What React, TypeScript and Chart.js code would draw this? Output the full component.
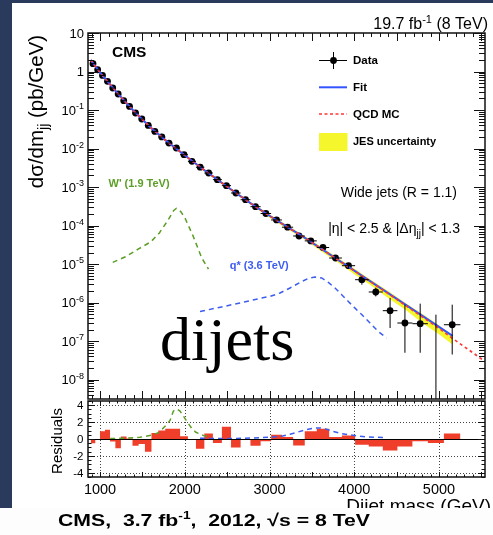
import { useEffect, useRef } from "react";
import { Chart, registerables } from "chart.js";

Chart.register(...registerables);

const SANS = "'Liberation Sans', Arial, Helvetica, sans-serif";
const SERIF = "'Liberation Serif', 'Times New Roman', Times, serif";

// ---- dijet mass binning (GeV) ----
const binEdges = [
  890, 944, 1000, 1058, 1118, 1181, 1246, 1313, 1383, 1455, 1530, 1607, 1687, 1770,
  1856, 1945, 2037, 2132, 2231, 2332, 2438, 2546, 2659, 2775, 2895, 3019, 3147, 3279,
  3416, 3558, 3704, 3854, 4010, 4171, 4337, 4509, 4686, 4869, 5058, 5253,
];
const binCentres = [
  917, 972, 1029, 1088, 1150, 1214, 1280, 1348, 1419, 1493, 1569, 1647, 1729, 1813,
  1901, 1991, 2085, 2182, 2282, 2385, 2492, 2603, 2717, 2835, 2957, 3083, 3213, 3348,
  3487, 3631, 3779, 3932, 4090, 4254, 4423, 4598, 4778, 4964, 5156,
];

// ---- measured cross section dσ/dm (pb/GeV) ----
const dataXsec = [
  1.6, 1.11, 0.79, 0.555, 0.373, 0.261, 0.175, 0.124, 0.0838, 0.0585,
  0.0399, 0.0279, 0.02, 0.0139, 0.01035, 0.00693, 0.00465, 0.00328, 0.00232, 0.00156,
  0.00109, 7.02e-4, 4.7e-4, 3.1e-4, 2.06e-4, 1.4e-4, 9.08e-5, 5.37e-5, 4.01e-5, 2.7e-5,
  1.44e-5, 9.1e-6, 3.94e-6, 1.89e-6, 6.18e-7, 2.96e-7, 2.84e-7, null, 2.67e-7,
];
// upper / lower ends of the statistical error bars (null = hidden by marker, 0 = off scale)
const errHigh = [
  null, null, null, null, null, null, null, null, null, null,
  null, null, null, null, null, null, null, null, null, null,
  null, null, null, null, null, null, null, null, null, null,
  1.6e-5, 1.05e-5, 4.8e-6, 2.45e-6, 1.32e-6, 8.85e-7, 9.4e-7, 4.87e-7, 8.85e-7,
];
const errLow = [
  null, null, null, null, null, null, null, null, null, null,
  null, null, null, null, null, null, null, null, null, null,
  null, null, null, null, null, null, null, null, null, null,
  1.3e-5, 7.9e-6, 2.92e-6, 1.45e-6, 2.19e-7, 5.0e-8, 5.0e-8, 0, 4.5e-8,
];

// ---- fit, QCD MC and JES band ----
const fitMass = [
  890, 1000, 1200, 1400, 1600, 1800, 2000, 2200, 2400, 2600, 2800, 3000, 3200, 3400,
  3600, 3800, 4000, 4200, 4400, 4600, 4800, 5000, 5160,
];
const fitXsec = [
  2.0, 0.942, 0.282, 0.0931, 0.0346, 0.0147, 6.67e-3, 3.08e-3, 1.48e-3, 7.1e-4, 3.51e-4,
  1.8e-4, 9.5e-5, 5.12e-5, 2.61e-5, 1.33e-5, 6.8e-6, 3.47e-6, 1.77e-6, 9.0e-7, 4.6e-7,
  2.35e-7, 1.37e-7,
];
const qcdMass = [
  890, 1000, 1200, 1400, 1600, 1800, 2000, 2200, 2400, 2600, 2800, 3000, 3200, 3400,
  3600, 3800, 4000, 4200, 4400, 4600, 4800, 5000, 5160, 5350, 5540,
];
const qcdXsec = [
  2.0, 0.94, 0.283, 0.0928, 0.0347, 0.0146, 6.65e-3, 3.09e-3, 1.47e-3, 7.12e-4, 3.5e-4,
  1.79e-4, 9.45e-5, 5.08e-5, 2.6e-5, 1.32e-5, 6.7e-6, 3.4e-6, 1.72e-6, 8.6e-7, 4.3e-7,
  2.15e-7, 1.17e-7, 6.0e-8, 3.0e-8,
];
const jesMass = fitMass;
const jesHigh = [
  2.08, 0.98, 0.293, 0.0968, 0.0367, 0.0156, 7.07e-3, 3.33e-3, 1.6e-3, 7.67e-4, 3.79e-4,
  1.98e-4, 1.045e-4, 5.61e-5, 2.91e-5, 1.48e-5, 7.64e-6, 3.88e-6, 2.0e-6, 1.0e-6, 5.16e-7,
  2.58e-7, 1.4e-7,
];
const jesLow = [
  1.92, 0.904, 0.271, 0.0894, 0.0325, 0.0138, 6.27e-3, 2.83e-3, 1.36e-3, 6.53e-4, 3.23e-4,
  1.6e-4, 8.46e-5, 4.54e-5, 2.24e-5, 1.135e-5, 5.49e-6, 2.79e-6, 1.32e-6, 6.6e-7, 3.0e-7,
  1.5e-7, 8.2e-8,
];

// ---- signal shapes ----
const wprimeMass = [1150, 1300, 1450, 1600, 1700, 1800, 1870, 1900, 1950, 2000, 2100, 2200, 2280];
const wprimeXsec = [
  1.11e-5, 1.55e-5, 2.45e-5, 3.8e-5, 6.46e-5, 1.36e-4, 2.48e-4, 2.8e-4, 2.34e-4, 1.62e-4,
  5.25e-5, 1.45e-5, 7.4e-6,
];
const qstarMass = [
  2180, 2420, 2652, 2888, 3006, 3124, 3242, 3360, 3458, 3537, 3616, 3694, 3773, 3852,
  3930, 4009, 4088, 4186, 4284, 4383,
];
const qstarXsec = [
  5.9e-7, 7.6e-7, 9.8e-7, 1.29e-6, 1.45e-6, 1.78e-6, 2.4e-6, 3.35e-6, 4.27e-6, 4.63e-6,
  4.37e-6, 3.35e-6, 2.4e-6, 1.61e-6, 1.07e-6, 7.2e-7, 4.9e-7, 2.95e-7, 1.78e-7, 1.21e-7,
];

// ---- residuals (data - fit) / error, per bin ----
const residuals = [
  -0.5, 0.0, 0.92, 1.1, -0.3, -1.1, 0.3, 0.05, -0.8, -0.6,
  -1.5, 0.72, 1.0, 1.2, 1.2, 0.32, -0.05, -1.15, 0.65, -0.48,
  1.45, -1.0, -0.05, -0.8, -0.28, 0.5, 0.24, -0.76, 0.92, 1.2,
  0.25, 0.4, -0.68, -0.88, -1.36, -0.88, -0.28, -0.48, 0.64,
];
const wprimeResMass = [1120, 1300, 1470, 1630, 1700, 1767, 1826, 1865, 1905, 1944, 1985, 2030, 2080, 2130, 2220, 2300];
const wprimeRes = [0.05, 0.1, 0.2, 0.5, 0.8, 1.5, 2.2, 3.3, 3.55, 3.3, 2.7, 2.0, 1.3, 0.8, 0.42, 0.25];
const qstarResMass = [2180, 2450, 2700, 2900, 3050, 3144, 3242, 3340, 3440, 3537, 3600, 3660, 3753, 3852, 3950, 4068, 4168, 4266, 4380];
const qstarRes = [0.08, 0.06, 0.08, 0.15, 0.25, 0.33, 0.56, 0.84, 1.12, 1.3, 1.3, 1.2, 0.88, 0.64, 0.48, 0.32, 0.24, 0.2, 0.16];

// ---- axes ----
const massRange = [858, 5543];
const xsecRange = [3.15e-9, 10];
const residualRange = [-4.5, 4.5];
const massLabels = [1000, 2000, 3000, 4000, 5000];
const residualLabels = [4, 2, 0, -2, -4];
const decades = [1, 0, -1, -2, -3, -4, -5, -6, -7, -8];

// ---- colours ----
const FIT_BLUE = "#3355ff";
const QCD_RED = "#ff3535";
const JES_YELLOW = "#f6f62c";
const WPRIME_GREEN = "#5c9e26";
const QSTAR_BLUE = "#3d5cf0";
const RES_RED = "#ef3f2b";

type Part = { t: string; size: number; bold?: boolean; dy?: number; family?: string };
const fontOf = (p: Part) => `${p.bold ? "bold " : ""}${p.size}px ${p.family ?? SANS}`;

function drawRich(ctx: CanvasRenderingContext2D, parts: Part[], x: number, y: number, align: "left" | "right" | "center" = "left") {
  ctx.textAlign = "left";
  ctx.textBaseline = "alphabetic";
  const ws = parts.map((p) => {
    ctx.font = fontOf(p);
    return ctx.measureText(p.t).width;
  });
  const total = ws.reduce((s, w) => s + w, 0);
  let cx = align === "left" ? x : align === "right" ? x - total : x - total / 2;
  parts.forEach((p, i) => {
    ctx.font = fontOf(p);
    ctx.fillText(p.t, cx, y + (p.dy ?? 0));
    cx += ws[i];
  });
  return total;
}

function richWidth(ctx: CanvasRenderingContext2D, parts: Part[]) {
  return parts.reduce((s, p) => {
    ctx.font = fontOf(p);
    return s + ctx.measureText(p.t).width;
  }, 0);
}

const pts = (xs: number[], ys: (number | null)[]) => xs.map((x, i) => ({ x, y: ys[i] }));

// error bars of the data points
const errorBarPlugin = {
  id: "errorBars",
  afterDatasetsDraw(chart: any) {
    const { ctx, chartArea: a } = chart;
    const xs = chart.scales.x;
    const ys = chart.scales.y;
    ctx.save();
    ctx.beginPath();
    ctx.rect(a.left, a.top, a.right - a.left, a.bottom - a.top);
    ctx.clip();
    ctx.strokeStyle = "#000";
    ctx.lineWidth = 1;
    ctx.beginPath();
    binCentres.forEach((m, i) => {
      const v = dataXsec[i];
      const px = xs.getPixelForValue(m);
      if (v != null) {
        const py = ys.getPixelForValue(v);
        ctx.moveTo(xs.getPixelForValue(binEdges[i]), py);
        ctx.lineTo(xs.getPixelForValue(binEdges[i + 1]), py);
      }
      const hi = errHigh[i];
      const lo = errLow[i];
      if (hi != null) {
        const top = ys.getPixelForValue(hi);
        const bot = lo != null && lo > 0 ? ys.getPixelForValue(lo) : a.bottom;
        ctx.moveTo(px, top);
        ctx.lineTo(px, bot);
      }
    });
    ctx.stroke();
    ctx.restore();
  },
};

// frame, ticks and annotations of the spectrum pad
const upperPadPlugin = {
  id: "upperPad",
  afterDraw(chart: any) {
    const { ctx, chartArea: a } = chart;
    const xs = chart.scales.x;
    const ys = chart.scales.y;
    ctx.save();
    ctx.strokeStyle = "#111";
    ctx.lineWidth = 1;
    ctx.beginPath();
    for (let m = 900; m <= 5500; m += 100) {
      const px = Math.round(xs.getPixelForValue(m)) + 0.5;
      const len = m % 500 === 0 ? 8 : 4;
      ctx.moveTo(px, a.top);
      ctx.lineTo(px, a.top + len);
      ctx.moveTo(px, a.bottom);
      ctx.lineTo(px, a.bottom - len);
    }
    for (let d = -9; d <= 1; d++) {
      for (let k = 1; k <= 9; k++) {
        const v = k * Math.pow(10, d);
        if (v < xsecRange[0] || v > xsecRange[1] * 1.0001) continue;
        const py = Math.round(ys.getPixelForValue(v)) + 0.5;
        const len = k === 1 ? 11 : 6;
        ctx.moveTo(a.left, py);
        ctx.lineTo(a.left + len, py);
        ctx.moveTo(a.right, py);
        ctx.lineTo(a.right - len, py);
      }
    }
    ctx.stroke();
    ctx.lineWidth = 1.5;
    ctx.strokeRect(a.left, a.top, a.right - a.left, a.bottom - a.top);

    // decade labels
    ctx.fillStyle = "#000";
    decades.forEach((d) => {
      const py = ys.getPixelForValue(Math.pow(10, d));
      const parts: Part[] =
        d === 1 ? [{ t: "10", size: 13 }] : d === 0 ? [{ t: "1", size: 13 }] : [{ t: "10", size: 13 }, { t: String(d), size: 9, dy: -5.5 }];
      drawRich(ctx, parts, a.left - 4, py + 4.6, "right");
    });

    // axis title
    ctx.save();
    ctx.translate(43, 111.5);
    ctx.rotate(-Math.PI / 2);
    drawRich(ctx, [{ t: "dσ/dm", size: 20.5 }, { t: "jj", size: 14, dy: 5 }, { t: " (pb/GeV)", size: 20.5 }], 0, 0, "center");
    ctx.restore();

    // labels
    drawRich(ctx, [{ t: "CMS", size: 15.5, bold: true }], 112, 57.3);
    drawRich(ctx, [{ t: "19.7 fb", size: 16 }, { t: "-1", size: 11, dy: -6 }, { t: " (8 TeV)", size: 16 }], 488, 29.3, "right");

    // legend
    const lx0 = 319;
    const lx1 = 347;
    const tx = 353;
    ctx.strokeStyle = "#000";
    ctx.lineWidth = 1;
    ctx.beginPath();
    ctx.moveTo(lx0, 60.5);
    ctx.lineTo(lx1, 60.5);
    ctx.moveTo(333.5, 52);
    ctx.lineTo(333.5, 69);
    ctx.stroke();
    ctx.beginPath();
    ctx.arc(333.5, 60.5, 3.4, 0, Math.PI * 2);
    ctx.fill();
    drawRich(ctx, [{ t: "Data", size: 11.5, bold: true }], tx, 64.3);

    ctx.strokeStyle = FIT_BLUE;
    ctx.lineWidth = 2;
    ctx.beginPath();
    ctx.moveTo(lx0, 87.3);
    ctx.lineTo(lx1, 87.3);
    ctx.stroke();
    drawRich(ctx, [{ t: "Fit", size: 11.5, bold: true }], tx, 91.3);

    ctx.strokeStyle = QCD_RED;
    ctx.lineWidth = 1.5;
    ctx.setLineDash([3, 2.5]);
    ctx.beginPath();
    ctx.moveTo(lx0, 114);
    ctx.lineTo(lx1, 114);
    ctx.stroke();
    ctx.setLineDash([]);
    drawRich(ctx, [{ t: "QCD MC", size: 11.5, bold: true }], tx, 118);

    ctx.fillStyle = JES_YELLOW;
    ctx.fillRect(lx0, 133, lx1 - lx0 + 0.5, 18);
    ctx.fillStyle = "#000";
    drawRich(ctx, [{ t: "JES uncertainty", size: 11, bold: true }], tx, 144.7);

    drawRich(ctx, [{ t: "Wide jets (R = 1.1)", size: 14 }], 457, 197, "right");
    drawRich(ctx, [{ t: "|η| < 2.5 & |Δη", size: 14 }, { t: "jj", size: 10, dy: 4 }, { t: "| < 1.3", size: 14 }], 460, 233.3, "right");

    ctx.fillStyle = WPRIME_GREEN;
    drawRich(ctx, [{ t: "W' (1.9 TeV)", size: 11, bold: true }], 108.5, 187);
    ctx.fillStyle = QSTAR_BLUE;
    drawRich(ctx, [{ t: "q* (3.6 TeV)", size: 11, bold: true }], 229.7, 269);

    ctx.fillStyle = "#000";
    drawRich(ctx, [{ t: "dijets", size: 62, family: SERIF }], 160, 360);
    ctx.restore();
  },
};

// grid, frame, ticks and labels of the residual pad, plus the caption
const lowerPadPlugin = {
  id: "lowerPad",
  beforeDatasetsDraw(chart: any) {
    const { ctx, chartArea: a } = chart;
    const xs = chart.scales.x;
    const ys = chart.scales.y;
    ctx.save();
    ctx.strokeStyle = "#444";
    ctx.lineWidth = 1;
    ctx.setLineDash([1, 2]);
    ctx.beginPath();
    massLabels.forEach((m) => {
      const px = Math.round(xs.getPixelForValue(m)) + 0.5;
      ctx.moveTo(px, a.top);
      ctx.lineTo(px, a.bottom);
    });
    residualLabels.forEach((r) => {
      if (r === 0) return;
      const py = Math.round(ys.getPixelForValue(r)) + 0.5;
      ctx.moveTo(a.left, py);
      ctx.lineTo(a.right, py);
    });
    ctx.stroke();
    ctx.restore();
  },
  afterDraw(chart: any) {
    const { ctx, chartArea: a } = chart;
    const xs = chart.scales.x;
    const ys = chart.scales.y;
    ctx.save();
    // zero line
    ctx.strokeStyle = "#000";
    ctx.lineWidth = 1;
    const y0 = Math.round(ys.getPixelForValue(0)) + 0.5;
    ctx.beginPath();
    ctx.moveTo(a.left, y0);
    ctx.lineTo(a.right, y0);
    ctx.stroke();

    // ticks
    ctx.strokeStyle = "#111";
    ctx.beginPath();
    for (let m = 900; m <= 5500; m += 100) {
      const px = Math.round(xs.getPixelForValue(m)) + 0.5;
      const len = m % 500 === 0 ? 5 : 2.5;
      ctx.moveTo(px, a.top);
      ctx.lineTo(px, a.top + len);
      ctx.moveTo(px, a.bottom);
      ctx.lineTo(px, a.bottom - len);
    }
    for (let r = -4.5; r <= 4.5; r += 0.5) {
      const py = Math.round(ys.getPixelForValue(r)) + 0.5;
      const len = Math.abs(r % 2) < 1e-6 ? 7 : 3.5;
      ctx.moveTo(a.left, py);
      ctx.lineTo(a.left + len, py);
      ctx.moveTo(a.right, py);
      ctx.lineTo(a.right - len, py);
    }
    ctx.stroke();
    ctx.lineWidth = 1.5;
    ctx.strokeRect(a.left, a.top, a.right - a.left, a.bottom - a.top);

    ctx.fillStyle = "#000";
    residualLabels.forEach((r) => {
      drawRich(ctx, [{ t: String(r), size: 11.5 }], a.left - 4.5, ys.getPixelForValue(r) + 4, "right");
    });
    massLabels.forEach((m) => {
      drawRich(ctx, [{ t: String(m), size: 14.5 }], xs.getPixelForValue(m), 493.5, "center");
    });

    ctx.save();
    ctx.translate(62, 441);
    ctx.rotate(-Math.PI / 2);
    drawRich(ctx, [{ t: "Residuals", size: 15 }], 0, 0, "center");
    ctx.restore();

    drawRich(ctx, [{ t: "Dijet mass (GeV)", size: 19 }], 491, 511.5, "right");

    // caption strip
    ctx.fillStyle = "#fdfdfd";
    ctx.fillRect(0, 508, 493, 27);
    ctx.fillStyle = "#000";
    const caption: Part[] = [
      { t: "CMS,  3.7 fb", size: 17, bold: true },
      { t: "-1", size: 11, bold: true, dy: -7 },
      { t: ",  2012, √s = 8 TeV", size: 17, bold: true },
    ];
    const w = richWidth(ctx, caption);
    ctx.save();
    ctx.translate(58, 525.7);
    ctx.scale(312 / w, 1);
    drawRich(ctx, caption, 0, 0);
    ctx.restore();
    ctx.restore();
  },
};

export default function App() {
  const upperRef = useRef<HTMLCanvasElement>(null);
  const lowerRef = useRef<HTMLCanvasElement>(null);

  useEffect(() => {
    const upper = new Chart(upperRef.current!, {
      type: "line",
      data: {
        datasets: [
          {
            label: "QCD MC",
            data: pts(qcdMass, qcdXsec),
            borderColor: QCD_RED,
            borderWidth: 1.6,
            borderDash: [3, 3],
            pointRadius: 0,
            order: 1,
          },
          {
            label: "Fit",
            data: pts(fitMass, fitXsec),
            borderColor: FIT_BLUE,
            borderWidth: 2,
            pointRadius: 0,
            order: 2,
          },
          {
            label: "Data",
            data: pts(binCentres, dataXsec),
            showLine: false,
            pointRadius: 3.4,
            pointBackgroundColor: "#000",
            pointBorderColor: "#000",
            pointBorderWidth: 0,
            order: 3,
          },
          {
            label: "JES uncertainty",
            data: pts(jesMass, jesHigh),
            borderWidth: 0,
            borderColor: "rgba(0,0,0,0)",
            backgroundColor: JES_YELLOW,
            pointRadius: 0,
            fill: "+1",
            order: 5,
          },
          {
            label: "JES low",
            data: pts(jesMass, jesLow),
            borderWidth: 0,
            borderColor: "rgba(0,0,0,0)",
            pointRadius: 0,
            order: 6,
          },
          {
            label: "W' (1.9 TeV)",
            data: pts(wprimeMass, wprimeXsec),
            borderColor: WPRIME_GREEN,
            borderWidth: 1.5,
            borderDash: [5, 4],
            pointRadius: 0,
            order: 7,
          },
          {
            label: "q* (3.6 TeV)",
            data: pts(qstarMass, qstarXsec),
            borderColor: QSTAR_BLUE,
            borderWidth: 1.5,
            borderDash: [5, 4],
            pointRadius: 0,
            order: 8,
          },
        ],
      },
      options: {
        responsive: false,
        animation: false,
        events: [],
        layout: { padding: { left: 88, top: 33, right: 8, bottom: 136 } },
        plugins: { legend: { display: false }, tooltip: { enabled: false } },
        scales: {
          x: { type: "linear", min: massRange[0], max: massRange[1], display: false },
          y: { type: "logarithmic", min: xsecRange[0], max: xsecRange[1], display: false },
        },
      },
      plugins: [errorBarPlugin, upperPadPlugin],
    } as any);

    const lower = new Chart(lowerRef.current!, {
      type: "line",
      data: {
        datasets: [
          {
            label: "W' residual",
            data: pts(wprimeResMass, wprimeRes),
            borderColor: WPRIME_GREEN,
            borderWidth: 1.5,
            borderDash: [5, 4],
            pointRadius: 0,
            order: 1,
          },
          {
            label: "q* residual",
            data: pts(qstarResMass, qstarRes),
            borderColor: QSTAR_BLUE,
            borderWidth: 1.5,
            borderDash: [5, 4],
            pointRadius: 0,
            order: 2,
          },
          {
            label: "Residuals",
            data: residuals.flatMap((r, i) => [
              { x: binEdges[i], y: r },
              { x: binEdges[i + 1], y: r },
            ]),
            borderWidth: 0,
            borderColor: "rgba(0,0,0,0)",
            backgroundColor: RES_RED,
            pointRadius: 0,
            fill: "origin",
            order: 3,
          },
        ],
      },
      options: {
        responsive: false,
        animation: false,
        events: [],
        layout: { padding: { left: 88, top: 401, right: 8, bottom: 58 } },
        plugins: { legend: { display: false }, tooltip: { enabled: false } },
        scales: {
          x: { type: "linear", min: massRange[0], max: massRange[1], display: false },
          y: { type: "linear", min: residualRange[0], max: residualRange[1], display: false },
        },
      },
      plugins: [lowerPadPlugin],
    } as any);

    return () => {
      upper.destroy();
      lower.destroy();
    };
  }, []);

  return (
    <div
      style={{
        position: "fixed",
        left: 0,
        top: 0,
        width: 493,
        height: 535,
        overflow: "hidden",
        background: "#2a3a5c",
      }}
    >
      <div style={{ position: "absolute", left: 12, top: 3, width: 481, height: 505, background: "#ffffff" }} />
      <canvas ref={upperRef} width={493} height={535} style={{ position: "absolute", left: 0, top: 0 }} />
      <canvas ref={lowerRef} width={493} height={535} style={{ position: "absolute", left: 0, top: 0 }} />
    </div>
  );
}
